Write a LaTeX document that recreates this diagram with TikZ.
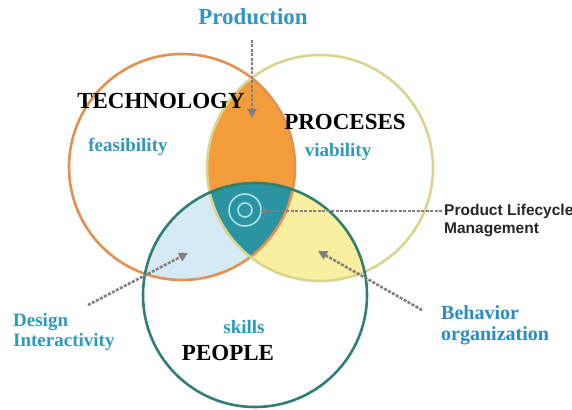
\documentclass[tikz,border=0pt]{standalone}
\usepackage{fontspec}
\setmainfont{Liberation Serif}
\newfontfamily\plmfont{Liberation Sans}
\usetikzlibrary{arrows.meta,calc,positioning}

\definecolor{techline}{HTML}{E39050}
\definecolor{procline}{HTML}{D9D58F}
\definecolor{peopleline}{HTML}{2F7F73}
\definecolor{lensorange}{HTML}{F39C3C}
\definecolor{lensblue}{HTML}{D6EAF6}
\definecolor{lensyellow}{HTML}{FAEFA0}
\definecolor{lensteal}{HTML}{2C93A3}
\definecolor{ringlight}{HTML}{A6E3EA}
\definecolor{tagblue}{HTML}{3098C0}
\definecolor{behavblue}{HTML}{2A8CC4}

\begin{document}
\begin{tikzpicture}[x=1pt,y=-1pt,
	ring/.style={line width=2.6pt},
	pointer/.style={draw=gray,line width=2.6pt,dash pattern=on 3pt off 1.5pt,-{Triangle[length=9pt,width=9pt]}},
	heading/.style={inner sep=0pt,font=\fontsize{23}{25}\selectfont\bfseries},
	aspect/.style={inner sep=0pt,text=tagblue,font=\fontsize{19}{20}\selectfont\bfseries}]
	\useasboundingbox (0,0) rectangle (572,409);
	\coordinate (tech) at (182,167);
	\coordinate (proc) at (320,168);
	\coordinate (ppl) at (255,295);

	% overlaps
	\begin{scope}
		\clip (tech) circle (113);
		\fill[lensorange] (proc) circle (113);
		\fill[lensblue] (ppl) circle (112);
	\end{scope}
	\begin{scope}
		\clip (proc) circle (113);
		\fill[lensyellow] (ppl) circle (112);
		\clip (ppl) circle (112);
		\fill[lensteal] (tech) circle (113);
	\end{scope}
	\draw[ringlight,line width=1.6pt] (245,210) circle (16) (245,210) circle (7);

	\draw[ring,techline] (tech) circle (113);
	\draw[ring,procline] (proc) circle (113);
	\draw[ring,peopleline] (ppl) circle (112);

	% labels
	\node[heading,text=tagblue] (prod) at (253,17) {Production};
	\node[heading] (techname) at (161,101) {TECHNOLOGY};
	\node[heading] (procname) at (345,122) {PROCESES};
	\node[heading] (pplname) at (228,353) {PEOPLE};
	\node[aspect] (feas) at (128,147) {feasibility};
	\node[aspect] (viab) at (338,152) {viability};
	\node[aspect] (skills) at (244,327) {skills};
	\node[aspect,anchor=west,align=left] (design) at (13,332) {Design\\Interactivity};
	\node[inner sep=0pt,text=behavblue,anchor=west,align=left,font=\fontsize{20}{21}\selectfont\bfseries] (behav) at (441,325) {Behavior\\organization};
	\node[inner sep=0pt,text=black!85,anchor=west,align=left,font=\plmfont\fontsize{15.5}{18}\selectfont\bfseries] (plm) at (444,221) {Product Lifecycle\\Management};

	% arrows
	\coordinate (prodfoot) at (252,40);
	\coordinate (prodtip) at (252,118);
	\coordinate (plmfoot) at (442,211);
	\coordinate (plmtip) at (260,211);
	\coordinate (designfoot) at (88,305);
	\coordinate (designtip) at (188,253);
	\coordinate (behavfoot) at (422,310);
	\coordinate (behavtip) at (318,251);
	\draw[pointer] (prodfoot) -- (prodtip);
	\draw[pointer,-{Triangle[length=6pt,width=6pt]}] (plmfoot) -- (plmtip);
	\draw[pointer] (designfoot) -- (designtip);
	\draw[pointer] (behavfoot) -- (behavtip);
\end{tikzpicture}
\end{document}
